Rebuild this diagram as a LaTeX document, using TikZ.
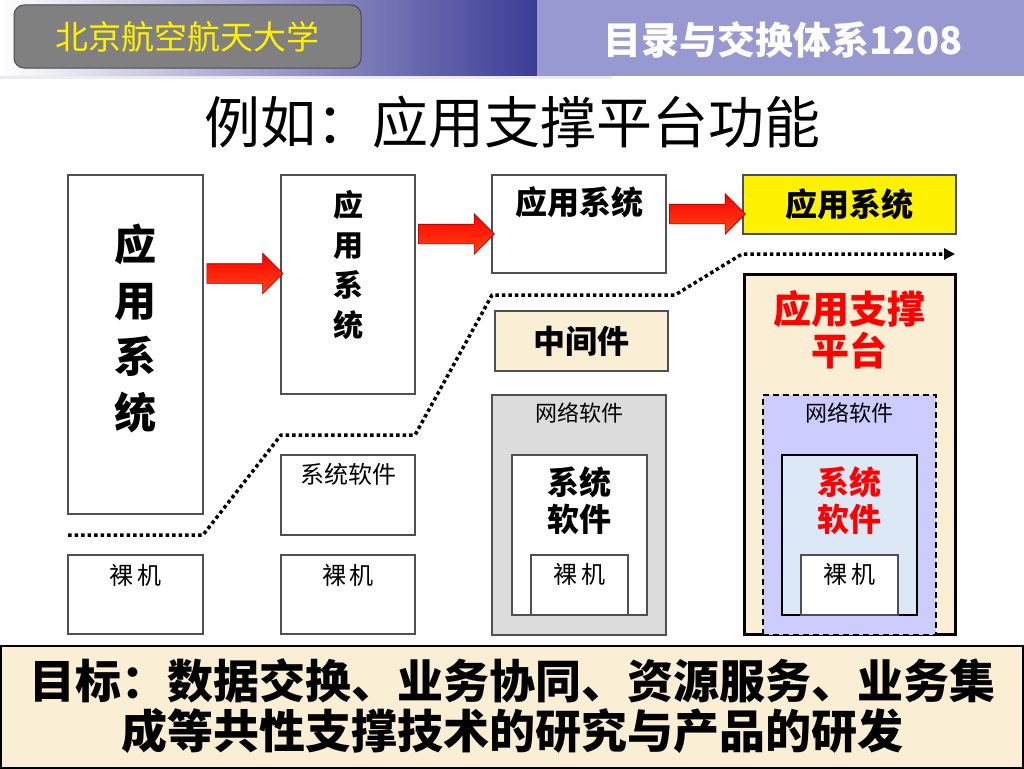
\documentclass[tikz,border=0pt]{standalone}
\usepackage{fontspec}
\setmainfont{Noto Sans CJK SC}
\usetikzlibrary{positioning,shapes.arrows,arrows.meta,calc}
\definecolor{hdrblue}{RGB}{60,60,150}
\definecolor{hdrmid}{RGB}{228,228,236}
\definecolor{hdrlav}{RGB}{153,153,210}
\definecolor{unigray}{RGB}{128,128,128}
\definecolor{beige}{RGB}{250,238,212}
\definecolor{lav}{RGB}{204,204,255}
\definecolor{paleblue}{RGB}{220,232,245}
\definecolor{boxgray}{RGB}{220,220,220}
\definecolor{edgegray}{RGB}{80,80,80}
\definecolor{arrowred}{RGB}{255,70,20}
\tikzstyle{every node}+=[inner sep=0]
\tikzstyle{plainbox}=[rectangle,draw=edgegray,line width=1.2pt,fill=white]
\tikzstyle{blockarrow}=[single arrow,draw=red!60!black,line width=0.6pt,top color=red,bottom color=arrowred,minimum height=76,inner xsep=0,inner ysep=9.5pt,single arrow head extend=10.5pt]
\tikzstyle{dotline}=[line width=3.5pt,dash pattern=on 3.5pt off 3pt,-{Triangle[length=11pt,width=11pt]}]
\newcommand{\fs}[2]{\fontsize{#1}{#2}\selectfont}
\tikzstyle{bigtxt}=[font=\bfseries\fs{32}{37},align=center]
\tikzstyle{smalltxt}=[font=\fs{24}{28}]

\begin{document}
\begin{tikzpicture}[x=1pt,y=-1pt]
\useasboundingbox (0,0) rectangle (1024,768);
% header
\shade[left color=white,middle color=hdrmid,right color=hdrblue] (0,0) rectangle (537,76);
\fill[hdrlav] (537,0) rectangle (1024,76);
\fill[gray!15] (0,76) rectangle (612,79);
\node[rectangle,rounded corners=10pt,draw=black!70,line width=1pt,fill=unigray,minimum width=347,minimum height=63,text=yellow,font=\fs{33}{36}] (uni) at (187.5,36.5) {北京航空航天大学};
\node[text=white,font=\bfseries\fs{38}{40}] (course) at (783,40) {目录与交换体系1208};
\node[font=\fs{56}{60}] (title) at (512,122) {例如：应用支撑平台功能};

% column 1
\node[plainbox,minimum width=135,minimum height=339] (app1) at (135.5,344.5) {};
\node[font=\bfseries\fs{42}{56},align=center] (app1t) at (135.5,328) {应\\用\\系\\统};
\node[plainbox,minimum width=135,minimum height=79] (bare1) at (135.5,594.5) {};
\node[smalltxt,below=10pt of bare1.north] (bare1t) {裸\,机};

% column 2
\node[plainbox,minimum width=134,minimum height=219] (app2) at (348,284.5) {};
\node[font=\bfseries\fs{30}{40},align=center] (app2t) at (348,265) {应\\用\\系\\统};
\node[plainbox,minimum width=134,minimum height=80] (sys2) at (348,495) {};
\node[smalltxt,below=9pt of sys2.north] (sys2t) {系统软件};
\node[plainbox,minimum width=134,minimum height=79] (bare2) at (348,594.5) {};
\node[smalltxt,below=10pt of bare2.north] (bare2t) {裸\,机};

% column 3
\node[plainbox,minimum width=174,minimum height=98] (app3) at (579,224) {};
\node[bigtxt,below=12pt of app3.north] (app3t) {应用系统};
\node[plainbox,bigtxt,fill=beige,minimum width=173,minimum height=60] (mid) at (581.5,341) {中间件};
\node[plainbox,fill=boxgray,minimum width=174,minimum height=240] (net3) at (579,515) {};
\node[smalltxt,font=\fs{22}{26},below=8pt of net3.north] (net3t) {网络软件};
\node[plainbox,minimum width=135,minimum height=160] (sys3) at (579.5,535) {};
\node[bigtxt,below=12pt of sys3.north] (sys3t) {系统\\软件};
\node[plainbox,minimum width=97,minimum height=60] (bare3) at (579.5,585) {};
\node[smalltxt,below=9pt of bare3.north] (bare3t) {裸\,机};

% column 4
\node[plainbox,bigtxt,fill=yellow,minimum width=213,minimum height=59] (app4) at (849.5,204.5) {应用系统};
\node[rectangle,draw=black,line width=3pt,fill=beige,minimum width=211,minimum height=360] (plat) at (849.5,454) {};
\node[font=\bfseries\fs{38}{42},text=red,align=center,below=18pt of plat.north] (platt) {应用支撑\\平台};
\node[rectangle,draw=black,line width=1.5pt,dash pattern=on 6pt off 4pt,fill=lav,minimum width=173,minimum height=240] (net4) at (849.5,515) {};
\node[smalltxt,font=\fs{22}{26},below=8pt of net4.north] (net4t) {网络软件};
\node[plainbox,draw=black,fill=paleblue,minimum width=135,minimum height=160] (sys4) at (849.5,535) {};
\node[bigtxt,text=red,below=12pt of sys4.north] (sys4t) {系统\\软件};
\node[plainbox,minimum width=97,minimum height=60] (bare4) at (849.5,585) {};
\node[smalltxt,below=9pt of bare4.north] (bare4t) {裸\,机};

% arrows between the systems
\foreach \i/\x/\y in {1/240/273.5,2/451.5/234,3/702.5/214}{
	\node[blockarrow] (arr\i) at (\x,\y) {};
}

% dotted boundary
\foreach \n/\x/\y in {d1/68/535,d2/203/535,d3/281/435,d4/415/435,d5/492/295,d6/675/295,d7/742/254,d8/955/254}{
	\coordinate (\n) at (\x,\y);
}
\draw[dotline] (d1) -- (d2) -- (d3) -- (d4) -- (d5) -- (d6) -- (d7) -- (d8);

% goal
\node[rectangle,draw=black,line width=2pt,fill=beige,minimum width=1022,minimum height=122,align=center,font=\bfseries\fs{46}{50}] (goal) at (512,706.5) {目标：数据交换、业务协同、资源服务、业务集\\成等共性支撑技术的研究与产品的研发};
\end{tikzpicture}
\end{document}
